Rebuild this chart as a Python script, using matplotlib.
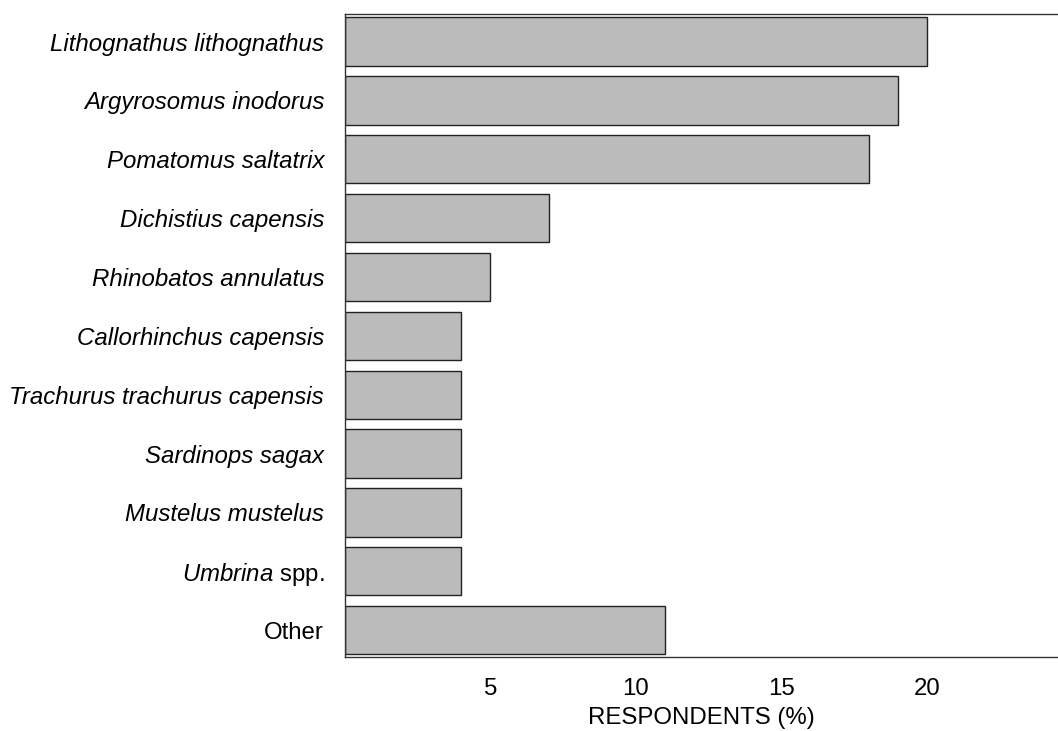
import matplotlib
matplotlib.use("Agg")
import matplotlib.pyplot as plt

plt.rcParams['font.family'] = ['Liberation Sans', 'DejaVu Sans']
plt.rcParams['mathtext.fontset'] = 'custom'
plt.rcParams['mathtext.it'] = 'Liberation Sans:italic'
plt.rcParams['mathtext.rm'] = 'Liberation Sans'

# data (top to bottom)
species = ["Lithognathus lithognathus", "Argyrosomus inodorus", "Pomatomus saltatrix",
           "Dichistius capensis", "Rhinobatos annulatus", "Callorhinchus capensis",
           "Trachurus trachurus capensis", "Sardinops sagax", "Mustelus mustelus",
           r"$\mathit{Umbrina}$ spp.", "Other"]
italic = [True] * 9 + [False, False]
respondents = [20, 19, 18, 7, 5, 4, 4, 4, 4, 4, 11]
xticks = [5, 10, 15, 20]

fs = 17.3

fig = plt.figure(figsize=(10.58, 7.31), dpi=100)
ax = fig.add_axes([0.326, 0.101, 0.674, 0.880])

ypos = list(range(len(species)))
ax.barh(ypos, respondents, height=0.82, color='#bbbbbb', edgecolor='#222222', linewidth=1.0)

ax.set_ylim(len(species) - 0.54, -0.47)
ax.set_xlim(0, 24.5)
ax.set_yticks(ypos)
ax.set_yticklabels(species, fontsize=fs)
for lab, it in zip(ax.get_yticklabels(), italic):
    if it:
        lab.set_fontstyle('italic')
ax.set_xticks(xticks)
ax.set_xticklabels([str(t) for t in xticks], fontsize=fs)
ax.tick_params(axis='y', length=0, pad=15)
ax.tick_params(axis='x', length=0, pad=15)
ax.set_xlabel("RESPONDENTS (%)", fontsize=fs, labelpad=5)

for s in ['top', 'bottom', 'left']:
    ax.spines[s].set_color('#333333')
    ax.spines[s].set_linewidth(1.0)
ax.spines['right'].set_visible(False)

fig.savefig("out.png", dpi=100)
